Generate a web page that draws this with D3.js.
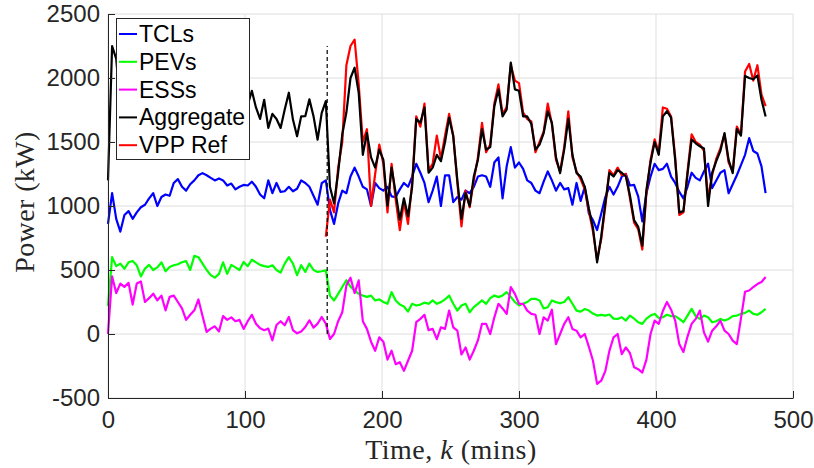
<!DOCTYPE html>
<html>
<head>
<meta charset="utf-8">
<script src="https://cdn.jsdelivr.net/npm/d3@7/dist/d3.min.js"></script>
<style>
  html, body { margin: 0; padding: 0; background: #fff; }
  svg { display: block; }
</style>
</head>
<body>
<svg id="chart" width="814" height="468"></svg>
<script>
// Time axis: every series is sampled every 3 minutes
const STEP = 3;
const xTicks = [0, 100, 200, 300, 400, 500];
const yTicks = [-500, 0, 500, 1000, 1500, 2000, 2500];
const switchTime = 160;      // dashed marker
const switchTop = 2250;

// TCLs, k = 0..480
const tcl = [
  860,1100,900,800,930,960,900,950,990,1010,
  1060,1100,1000,1070,1090,1080,1180,1210,1150,1120,
  1170,1200,1240,1257,1240,1220,1200,1215,1200,1160,
  1175,1130,1150,1165,1160,1190,1150,1090,1060,1200,
  1100,1180,1110,1115,1150,1115,1135,1200,1180,1150,
  1080,1010,1178,1200,970,860,1020,1120,1100,1230,
  1300,1230,1150,1130,1000,1180,1140,1120,1150,1075,
  1070,1130,1180,1150,1230,1330,1260,1180,1030,1120,
  1230,1000,1240,1240,1030,1070,1050,1120,1100,1150,
  1230,1240,1230,1150,1340,1380,1060,1310,1460,1300,
  1340,1290,1200,1180,1120,1100,1190,1270,1200,1120,
  1180,1130,1140,1010,1180,1040,1150,940,890,812,
  940,1070,1150,1090,1150,1230,1250,1160,1165,1075,
  880,1100,1230,1330,1280,1290,1330,1230,1180,1110,
  1060,1150,1260,1220,1200,1270,1330,1140,1200,1260,
  1280,1100,1170,1240,1320,1400,1530,1430,1410,1310,
  1100
];

// PEVs, k = 0..480
const pev = [
  220,600,530,550,510,560,570,537,450,511,
  540,500,520,560,490,524,537,545,560,570,
  500,610,600,550,500,460,440,470,560,470,
  540,520,500,563,530,580,560,540,530,524,
  537,500,480,550,600,550,460,537,485,550,
  500,485,490,498,300,262,314,367,420,370,
  340,314,300,290,300,262,270,250,236,327,
  262,230,215,175,236,223,230,245,236,262,
  236,249,270,300,236,183,223,236,170,210,
  236,262,236,280,301,288,301,327,290,250,
  223,236,250,275,275,262,200,209,262,249,
  240,250,288,236,183,175,195,183,160,144,
  150,144,152,120,118,131,105,144,120,92,
  79,120,144,157,125,131,150,140,140,118,
  92,144,196,140,118,144,131,92,100,118,
  105,118,140,144,157,165,183,157,150,170,
  196
];

// ESSs, k = 0..480
const ess = [
  0,450,320,394,368,400,230,394,410,250,
  280,315,263,300,185,290,300,250,200,110,
  150,185,270,140,16,42,60,20,140,110,
  130,100,110,40,100,150,80,45,30,42,
  -49,70,100,68,133,30,5,20,55,107,
  50,81,133,81,-39,0,100,170,380,440,
  320,419,100,40,-60,-131,-26,-60,-200,-131,
  -236,-220,-288,-209,-131,92,118,150,30,40,
  -40,52,40,183,52,26,-160,-105,-200,-131,
  -50,80,79,0,130,236,200,157,367,314,
  236,236,183,157,150,0,130,105,190,-79,
  0,79,131,39,26,-26,0,-100,-209,-390,
  -365,-290,-131,-26,0,-157,-105,-150,-260,-275,
  -301,-200,0,105,79,180,250,190,105,-79,
  -140,-20,79,118,183,13,-60,26,60,105,
  26,0,-52,-79,120,330,340,367,390,406,
  445
];

// Aggregate, k = 0..480
const aggregate = [
  1200,2250,2150,1780,1800,1900,1700,1870,1850,1780,
  1880,1920,1790,1930,1760,1900,2010,2000,1910,1800,
  1820,2000,2100,2000,1760,1720,1700,1700,1900,1740,
  1840,1750,1760,1770,1790,1900,1770,1680,1830,1610,
  1720,1680,1610,1754,1885,1675,1545,1700,1702,1833,
  1702,1518,1728,1820,1150,1021,1260,1560,1730,2000,
  2080,1885,1400,1570,1380,1300,1440,1360,1000,1300,
  1100,893,1060,920,1150,1680,1650,1770,1260,1300,
  1400,1350,1500,1690,1545,1200,900,1100,1000,1230,
  1360,1600,1440,1460,1780,1911,1700,1754,2121,1911,
  1900,1700,1700,1640,1440,1480,1570,1740,1650,1380,
  1257,1440,1680,1400,1257,1230,1150,980,830,560,
  760,1020,1260,1230,1280,1260,1230,1080,890,838,
  690,1126,1340,1500,1400,1700,1740,1690,1360,950,
  960,1250,1520,1490,1466,1450,1000,1260,1350,1430,
  1570,1360,1257,1600,1550,2016,2000,1990,2020,1830,
  1700
];

// VPP reference, k = 159..480
const vppStart = 159;
const vppRef = [
  760,
  1050,950,1300,1500,2100,2250,2300,1950,1500,1600,
  1000,1250,1480,1330,950,1330,1050,812,1030,860,
  1180,1700,1620,1800,1280,1330,1550,1370,1550,1720,
  1550,1180,840,1120,990,1200,1380,1650,1420,1480,
  1800,1950,1720,1770,2100,1980,1960,1730,1680,1660,
  1420,1500,1580,1800,1640,1360,1270,1460,1740,1380,
  1270,1210,1130,960,800,580,740,1000,1280,1240,
  1300,1240,1250,1060,870,820,660,1100,1360,1520,
  1420,1770,1760,1700,1380,930,950,1270,1560,1500,
  1480,1430,1060,1240,1370,1450,1560,1340,1270,1620,
  1560,2050,2110,1980,2100,1870,1780
];

const seriesNames = ["TCLs", "PEVs", "ESSs", "Aggregate", "VPP Ref"];
const seriesColors = ["#0000ff", "#00ff00", "#ff00ff", "#000000", "#ff0000"];

const svg = d3.select("#chart");
const L = 108, R = 793, T = 14, B = 398;
const x = d3.scaleLinear().domain([0, 500]).range([L, R]);
const y = d3.scaleLinear().domain([-500, 2500]).range([B, T]);
const axisColor = "#262626";
const tickFont = "'Liberation Sans', Arial, Helvetica, sans-serif";
const serif = "'Liberation Serif', 'DejaVu Serif', 'Times New Roman', serif";

// grid
const grid = svg.append("g").attr("stroke", "#dedede").attr("stroke-width", 1);
xTicks.forEach(t => grid.append("line")
  .attr("x1", x(t)).attr("x2", x(t)).attr("y1", T).attr("y2", B));
yTicks.forEach(t => grid.append("line")
  .attr("x1", L).attr("x2", R).attr("y1", y(t)).attr("y2", y(t)));

// series
const toPoints = (vals, k0) => vals.map((v, i) => [k0 + i * STEP, v]);
const line = d3.line().x(d => x(d[0])).y(d => y(d[1]));
const plotSeries = (vals, k0, color) => svg.append("path")
  .datum(toPoints(vals, k0))
  .attr("fill", "none").attr("stroke", color).attr("stroke-width", 2.2)
  .attr("stroke-linejoin", "round").attr("d", line);

plotSeries(tcl, 0, seriesColors[0]);
plotSeries(pev, 0, seriesColors[1]);
plotSeries(ess, 0, seriesColors[2]);
plotSeries(vppRef, vppStart, seriesColors[4]);
plotSeries(aggregate, 0, seriesColors[3]);

// dashed switch-over marker
svg.append("line")
  .attr("x1", x(switchTime)).attr("x2", x(switchTime))
  .attr("y1", y(0)).attr("y2", y(switchTop))
  .attr("stroke", "#000").attr("stroke-width", 1.2)
  .attr("stroke-dasharray", "4,3");

// axes
const fmt = d => String(d);
const xAxis = svg.append("g").attr("transform", `translate(0,${B})`)
  .call(d3.axisBottom(x).tickValues(xTicks).tickFormat(fmt)
    .tickSizeInner(-7).tickSizeOuter(0).tickPadding(13));
const yAxis = svg.append("g").attr("transform", `translate(${L},0)`)
  .call(d3.axisLeft(y).tickValues(yTicks).tickFormat(fmt)
    .tickSizeInner(-7).tickSizeOuter(0).tickPadding(8));
[xAxis, yAxis].forEach(a => {
  a.select(".domain").attr("stroke", axisColor).attr("stroke-width", 1);
  a.selectAll(".tick line").attr("stroke", axisColor).attr("stroke-width", 1);
  a.selectAll(".tick text").attr("fill", axisColor)
    .style("font-family", tickFont).style("font-size", "24px");
});

// axis titles
const xt = svg.append("text")
  .attr("x", 451).attr("y", 459).attr("text-anchor", "middle")
  .attr("fill", axisColor).style("font-family", serif).style("font-size", "28px")
  .style("letter-spacing", "0.5px");
xt.append("tspan").text("Time, ");
xt.append("tspan").style("font-style", "italic").text("k");
xt.append("tspan").text(" (mins)");

svg.append("text")
  .attr("transform", "translate(34,202) rotate(-90)")
  .attr("text-anchor", "middle")
  .attr("fill", axisColor).style("font-family", serif).style("font-size", "28px")
  .style("letter-spacing", "0.4px")
  .text("Power (kW)");

// legend
const lg = svg.append("g");
lg.append("rect").attr("x", 116.5).attr("y", 18.5).attr("width", 133).attr("height", 141)
  .attr("fill", "#fff").attr("stroke", axisColor).attr("stroke-width", 1);
seriesNames.forEach((name, i) => {
  const yy = 34 + i * 27.8;
  lg.append("line").attr("x1", 119).attr("x2", 137).attr("y1", yy).attr("y2", yy)
    .attr("stroke", seriesColors[i]).attr("stroke-width", 2);
  lg.append("text").attr("x", 139).attr("y", yy).attr("dy", "0.35em")
    .attr("fill", "#000").style("font-family", tickFont).style("font-size", "23px")
    .text(name);
});
</script>
</body>
</html>
